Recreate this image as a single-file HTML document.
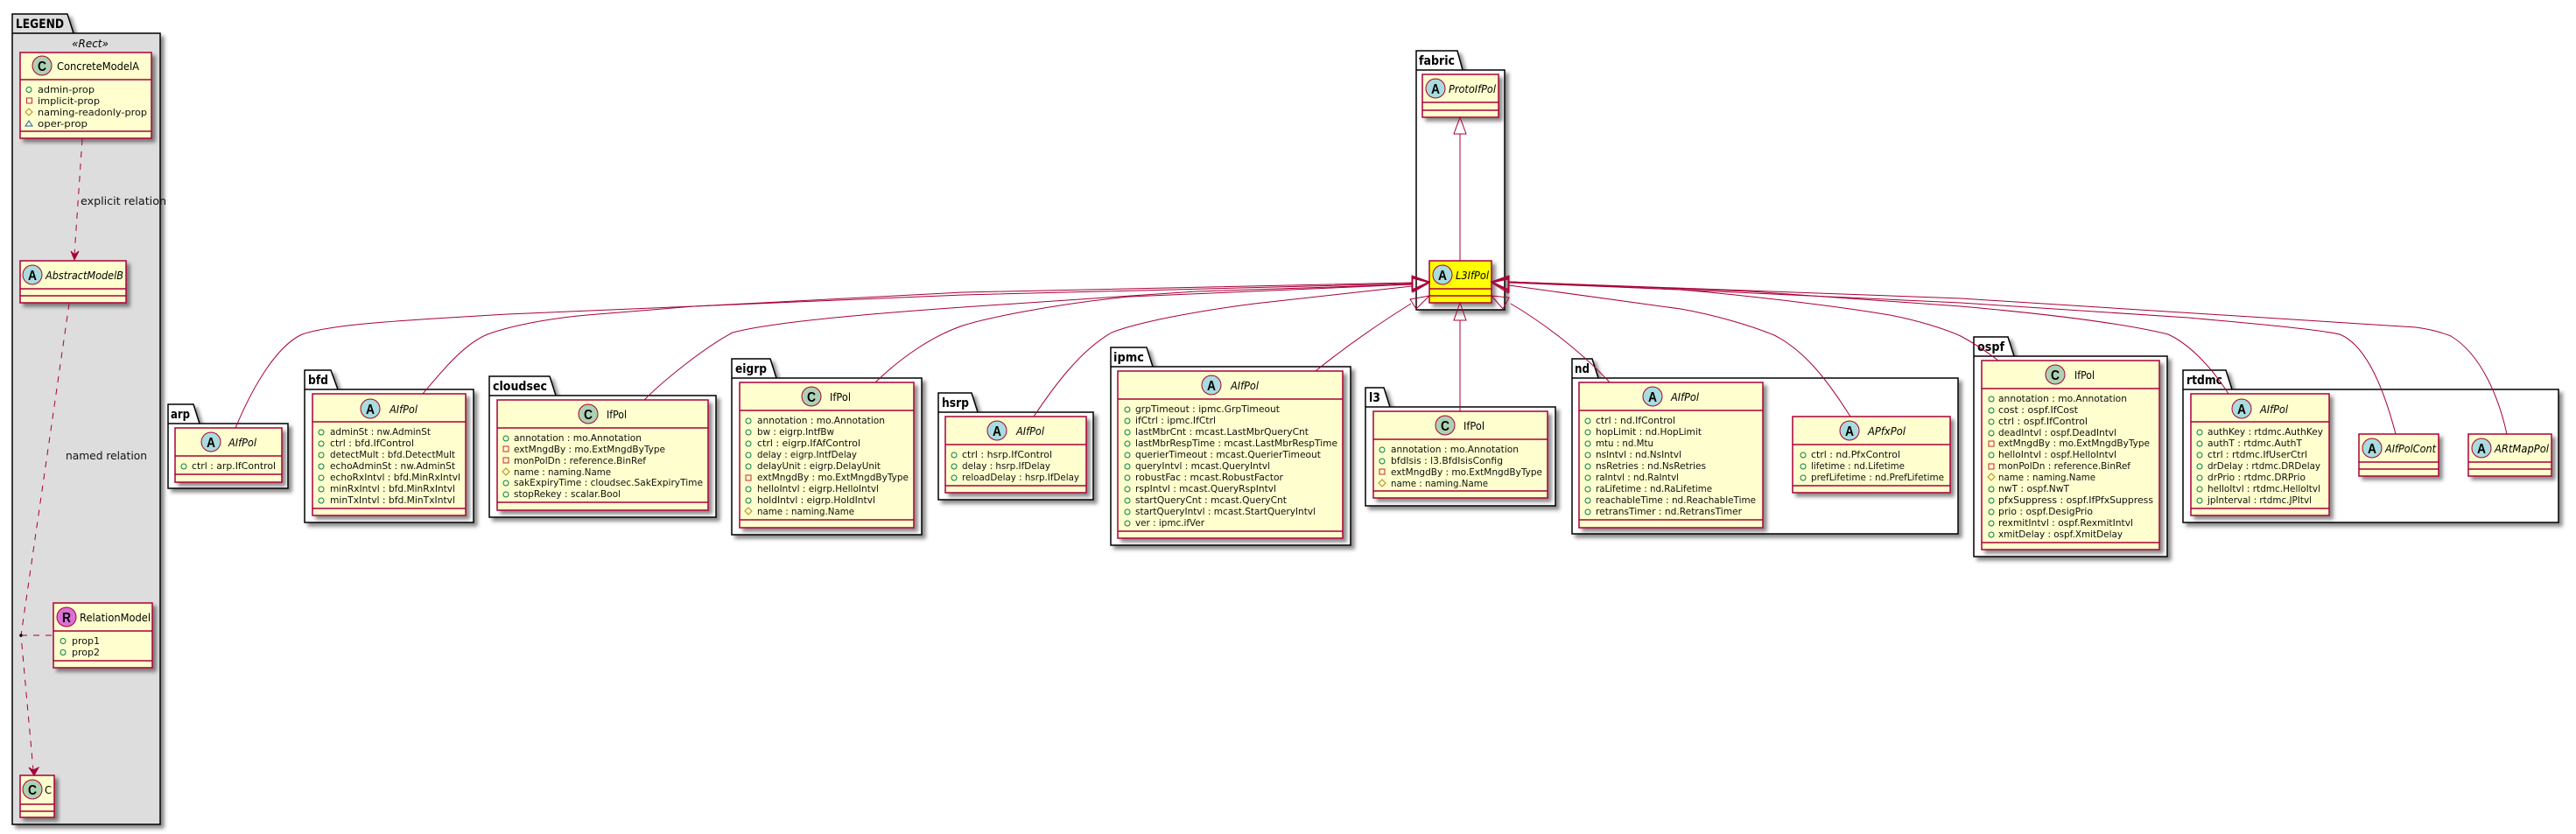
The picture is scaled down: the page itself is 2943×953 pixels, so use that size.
<!DOCTYPE html>
<html lang="en">
<head>
<meta charset="utf-8">
<title>L3IfPol class diagram</title>
<style>
html,body{margin:0;padding:0;background:#fff;width:2943px;height:953px;overflow:hidden}
svg{display:block}
text{font-family:"DejaVu Sans","Liberation Sans",sans-serif;fill:#000}
.f{font-size:11px;fill:#111}
.n{font-size:12px}
.i{font-size:12px;font-style:italic}
.p{font-size:14px;font-weight:bold}
.l{font-family:"Liberation Sans",sans-serif;font-size:16px;font-weight:bold;text-anchor:middle}
.pk{fill:#fff;stroke:#000;stroke-width:1.5}
.pl{fill:none;stroke:#000;stroke-width:1.5}
.c{fill:#FEFECE;stroke:#A80036;stroke-width:1.5}
.y{fill:#FFFF00;stroke:#A80036;stroke-width:1.5}
.d{stroke:#A80036;stroke-width:1.5;fill:none}
.cc{fill:#ADD1B2;stroke:#A80036;stroke-width:1}
.ca{fill:#A9DCDF;stroke:#A80036;stroke-width:1}
.cr{fill:#DA70D6;stroke:#A80036;stroke-width:1}
.e{fill:none;stroke:#A80036;stroke-width:1}
.da{fill:none;stroke:#A80036;stroke-width:1;stroke-dasharray:7,7}
.h{fill:#A80036;stroke:#A80036;stroke-width:1}
.pub{fill:none;stroke:#038048;stroke-width:1}
.pri{fill:none;stroke:#C82930;stroke-width:1}
.pro{fill:none;stroke:#B38D22;stroke-width:1}
.pac{fill:none;stroke:#1963A0;stroke-width:1}
.s{filter:url(#sh)}
</style>
</head>
<body>
<svg xmlns="http://www.w3.org/2000/svg" width="2943" height="953" viewBox="0 0 2943 953">
<defs>
<filter id="sh" x="-15%" y="-15%" width="135%" height="135%">
<feDropShadow dx="4" dy="4" stdDeviation="2" flood-color="#000" flood-opacity="0.45"/>
</filter>
</defs>
<rect width="2943" height="953" fill="#fff"/>

<!-- packages -->
<g class="s"><path d="M14,38V16H77L84,38H183V942H14Z" class="pk" style="fill:#DDDDDD"/></g>
<path d="M14,38H84" class="pl"/><text class="p" x="18" y="32" textLength="55" lengthAdjust="spacingAndGlyphs">LEGEND</text>
<text x="103" y="54" font-size="12" font-style="italic" text-anchor="middle">«Rect»</text>

<g class="s"><path d="M192,484V462H221L228,484H329V558H192Z" class="pk"/></g>
<path d="M192,484H228" class="pl"/><text class="p" x="195" y="478" textLength="22" lengthAdjust="spacingAndGlyphs">arp</text>

<g class="s"><path d="M348,445V423H378L386,445H541V597H348Z" class="pk"/></g>
<path d="M348,445H386" class="pl"/><text class="p" x="352" y="439" textLength="23" lengthAdjust="spacingAndGlyphs">bfd</text>

<g class="s"><path d="M559,452V430H628L635,452H818V591H559Z" class="pk"/></g>
<path d="M559,452H635" class="pl"/><text class="p" x="563" y="446" textLength="62" lengthAdjust="spacingAndGlyphs">cloudsec</text>

<g class="s"><path d="M836,432V410H880L887,432H1053V611H836Z" class="pk"/></g>
<path d="M836,432H887" class="pl"/><text class="p" x="840" y="426" textLength="36" lengthAdjust="spacingAndGlyphs">eigrp</text>

<g class="s"><path d="M1072,471V449H1110L1117,471H1249V571H1072Z" class="pk"/></g>
<path d="M1072,471H1117" class="pl"/><text class="p" x="1076" y="465" textLength="31" lengthAdjust="spacingAndGlyphs">hsrp</text>

<g class="s"><path d="M1269,419V397H1310L1317,419H1543V623H1269Z" class="pk"/></g>
<path d="M1269,419H1317" class="pl"/><text class="p" x="1272" y="413" textLength="35" lengthAdjust="spacingAndGlyphs">ipmc</text>

<g class="s"><path d="M1560,465V443H1581L1588,465H1777V578H1560Z" class="pk"/></g>
<path d="M1560,465H1588" class="pl"/><text class="p" x="1564" y="459" textLength="13" lengthAdjust="spacingAndGlyphs">l3</text>

<g class="s"><path d="M1796,432V410H1819L1826,432H2237V610H1796Z" class="pk"/></g>
<path d="M1796,432H1826" class="pl"/><text class="p" x="1799" y="426" textLength="17" lengthAdjust="spacingAndGlyphs">nd</text>

<g class="s"><path d="M2255,407V385H2294L2301,407H2476V636H2255Z" class="pk"/></g>
<path d="M2255,407H2301" class="pl"/><text class="p" x="2259" y="401" textLength="31" lengthAdjust="spacingAndGlyphs">ospf</text>

<g class="s"><path d="M2494,445V423H2543L2550,445H2923V597H2494Z" class="pk"/></g>
<path d="M2494,445H2550" class="pl"/><text class="p" x="2498" y="439" textLength="41" lengthAdjust="spacingAndGlyphs">rtdmc</text>

<g class="s"><path d="M1618,80V58H1665L1671,80H1719V354H1618Z" class="pk"/></g>
<path d="M1618,80H1671" class="pl"/><text class="p" x="1621" y="74" textLength="41" lengthAdjust="spacingAndGlyphs">fabric</text>

<!-- legend classes -->
<rect class="c s" x="23" y="60" width="150" height="98"/>
<path class="d" d="M23,91H173M23,150H173"/>
<circle class="cc" cx="48" cy="75" r="11"/><text class="l" x="48" y="81" textLength="10" lengthAdjust="spacingAndGlyphs">C</text>
<text class="n" x="65" y="80" textLength="94" lengthAdjust="spacingAndGlyphs">ConcreteModelA</text>
<circle class="pub" cx="33" cy="102.5" r="3"/>
<rect class="pri" x="30.500" y="112" width="6" height="6"/>
<path class="pro" d="M33,124L37,128L33,132L29,128Z"/>
<path class="pac" d="M33,138L37,144H29Z"/>
<text class="f" x="43" y="106" textLength="65" lengthAdjust="spacingAndGlyphs">admin-prop</text>
<text class="f" x="43" y="119" textLength="71" lengthAdjust="spacingAndGlyphs">implicit-prop</text>
<text class="f" x="43" y="132" textLength="125" lengthAdjust="spacingAndGlyphs">naming-readonly-prop</text>
<text class="f" x="43" y="145" textLength="57" lengthAdjust="spacingAndGlyphs">oper-prop</text>

<rect class="c s" x="23" y="298" width="121" height="48"/>
<path class="d" d="M23,330H144M23,338H144"/>
<circle class="ca" cx="37" cy="314" r="11"/><text class="l" x="37" y="320" textLength="10" lengthAdjust="spacingAndGlyphs">A</text>
<text class="i" x="52" y="319" textLength="89" lengthAdjust="spacingAndGlyphs">AbstractModelB</text>

<rect class="c s" x="61" y="689" width="113" height="74"/>
<path class="d" d="M61,721H174M61,755H174"/>
<circle class="cr" cx="76" cy="705" r="11"/><text class="l" x="76" y="711" textLength="10" lengthAdjust="spacingAndGlyphs">R</text>
<text class="n" x="91" y="710" textLength="81" lengthAdjust="spacingAndGlyphs">RelationModel</text>
<circle class="pub" cx="72" cy="732.500" r="3"/><circle class="pub" cx="72" cy="745.500" r="3"/>
<text class="f" x="82" y="736" textLength="32" lengthAdjust="spacingAndGlyphs">prop1</text>
<text class="f" x="82" y="749" textLength="32" lengthAdjust="spacingAndGlyphs">prop2</text>

<rect class="c s" x="23" y="886" width="39" height="48"/>
<path class="d" d="M23,919H62M23,927H62"/>
<circle class="cc" cx="37" cy="902" r="11"/><text class="l" x="37" y="908" textLength="10" lengthAdjust="spacingAndGlyphs">C</text>
<text class="n" x="51" y="907" textLength="8" lengthAdjust="spacingAndGlyphs">C</text>

<!-- legend relations -->
<path class="da" d="M94,159L85,291"/>
<path class="h" d="M85,297L81,287L85,291L90,287Z"/>
<text class="f" x="92" y="234" font-size="12" textLength="98" lengthAdjust="spacingAndGlyphs" style="font-size:12px">explicit relation</text>
<path class="da" d="M79,347L24,726L38,880"/>
<path class="h" d="M39,886L33,877L38,880L44,877Z"/>
<text class="f" x="75" y="525" textLength="93" lengthAdjust="spacingAndGlyphs" style="font-size:12px">named relation</text>
<circle cx="24" cy="726" r="1.8" fill="#000"/>
<path class="da" d="M24,726H61"/>

<!-- arp -->
<rect class="c s" x="200" y="489" width="122" height="62"/>
<path class="d" d="M200,521H322M200,542H322"/>
<circle class="ca" cx="241" cy="505" r="11"/><text class="l" x="241" y="511" textLength="10" lengthAdjust="spacingAndGlyphs">A</text>
<text class="i" x="261" y="510" textLength="32" lengthAdjust="spacingAndGlyphs">AIfPol</text>
<circle class="pub" cx="210" cy="533" r="3"/>
<text class="f" x="219" y="536" textLength="96" lengthAdjust="spacingAndGlyphs">ctrl : arp.IfControl</text>

<!-- bfd -->
<rect class="c s" x="357" y="450" width="175" height="139"/>
<path class="d" d="M357,482H532M357,581H532"/>
<circle class="ca" cx="423" cy="467" r="11"/><text class="l" x="423" y="473" textLength="10" lengthAdjust="spacingAndGlyphs">A</text>
<text class="i" x="445" y="472" textLength="32" lengthAdjust="spacingAndGlyphs">AIfPol</text>
<g class="pub"><circle cx="367" cy="494" r="3"/><circle cx="367" cy="507" r="3"/><circle cx="367" cy="520" r="3"/><circle cx="367" cy="533" r="3"/><circle cx="367" cy="546" r="3"/><circle cx="367" cy="559" r="3"/><circle cx="367" cy="572" r="3"/></g>
<text class="f" x="377" y="497" textLength="115" lengthAdjust="spacingAndGlyphs">adminSt : nw.AdminSt</text>
<text class="f" x="377" y="510" textLength="96" lengthAdjust="spacingAndGlyphs">ctrl : bfd.IfControl</text>
<text class="f" x="377" y="523" textLength="143" lengthAdjust="spacingAndGlyphs">detectMult : bfd.DetectMult</text>
<text class="f" x="377" y="536" textLength="143" lengthAdjust="spacingAndGlyphs">echoAdminSt : nw.AdminSt</text>
<text class="f" x="377" y="549" textLength="149" lengthAdjust="spacingAndGlyphs">echoRxIntvl : bfd.MinRxIntvl</text>
<text class="f" x="377" y="562" textLength="143" lengthAdjust="spacingAndGlyphs">minRxIntvl : bfd.MinRxIntvl</text>
<text class="f" x="377" y="575" textLength="143" lengthAdjust="spacingAndGlyphs">minTxIntvl : bfd.MinTxIntvl</text>

<!-- cloudsec -->
<rect class="c s" x="568" y="457" width="241" height="126"/>
<path class="d" d="M568,489H809M568,574H809"/>
<circle class="cc" cx="672" cy="473" r="11"/><text class="l" x="672" y="479" textLength="10" lengthAdjust="spacingAndGlyphs">C</text>
<text class="n" x="693" y="478" textLength="23" lengthAdjust="spacingAndGlyphs">IfPol</text>
<circle class="pub" cx="578" cy="501" r="3"/>
<rect class="pri" x="575" y="510" width="6" height="6"/>
<rect class="pri" x="575" y="523" width="6" height="6"/>
<path class="pro" d="M578,535L582,539L578,543L574,539Z"/>
<circle class="pub" cx="578" cy="552" r="3"/><circle class="pub" cx="578" cy="565" r="3"/>
<text class="f" x="587" y="504" textLength="146" lengthAdjust="spacingAndGlyphs">annotation : mo.Annotation</text>
<text class="f" x="587" y="517" textLength="173" lengthAdjust="spacingAndGlyphs">extMngdBy : mo.ExtMngdByType</text>
<text class="f" x="587" y="530" textLength="151" lengthAdjust="spacingAndGlyphs">monPolDn : reference.BinRef</text>
<text class="f" x="587" y="543" textLength="111" lengthAdjust="spacingAndGlyphs">name : naming.Name</text>
<text class="f" x="587" y="555" textLength="216" lengthAdjust="spacingAndGlyphs">sakExpiryTime : cloudsec.SakExpiryTime</text>
<text class="f" x="587" y="568" textLength="122" lengthAdjust="spacingAndGlyphs">stopRekey : scalar.Bool</text>

<!-- eigrp -->
<rect class="c s" x="845" y="437" width="199" height="166"/>
<path class="d" d="M845,469H1044M845,594H1044"/>
<circle class="cc" cx="927" cy="453" r="11"/><text class="l" x="927" y="459" textLength="10" lengthAdjust="spacingAndGlyphs">C</text>
<text class="n" x="948" y="458" textLength="24" lengthAdjust="spacingAndGlyphs">IfPol</text>
<g class="pub"><circle cx="855" cy="481" r="3"/><circle cx="855" cy="494" r="3"/><circle cx="855" cy="507" r="3"/><circle cx="855" cy="520" r="3"/><circle cx="855" cy="533" r="3"/><circle cx="855" cy="559" r="3"/><circle cx="855" cy="572" r="3"/></g>
<rect class="pri" x="852" y="543" width="6" height="6"/>
<path class="pro" d="M855,580L859,584L855,588L851,584Z"/>
<text class="f" x="865" y="484" textLength="146" lengthAdjust="spacingAndGlyphs">annotation : mo.Annotation</text>
<text class="f" x="865" y="497" textLength="88" lengthAdjust="spacingAndGlyphs">bw : eigrp.IntfBw</text>
<text class="f" x="865" y="510" textLength="118" lengthAdjust="spacingAndGlyphs">ctrl : eigrp.IfAfControl</text>
<text class="f" x="865" y="523" textLength="114" lengthAdjust="spacingAndGlyphs">delay : eigrp.IntfDelay</text>
<text class="f" x="865" y="536" textLength="141" lengthAdjust="spacingAndGlyphs">delayUnit : eigrp.DelayUnit</text>
<text class="f" x="865" y="549" textLength="173" lengthAdjust="spacingAndGlyphs">extMngdBy : mo.ExtMngdByType</text>
<text class="f" x="865" y="562" textLength="139" lengthAdjust="spacingAndGlyphs">helloIntvl : eigrp.HelloIntvl</text>
<text class="f" x="865" y="575" textLength="135" lengthAdjust="spacingAndGlyphs">holdIntvl : eigrp.HoldIntvl</text>
<text class="f" x="865" y="588" textLength="111" lengthAdjust="spacingAndGlyphs">name : naming.Name</text>

<!-- hsrp -->
<rect class="c s" x="1080" y="476" width="161" height="87"/>
<path class="d" d="M1080,508H1241M1080,555H1241"/>
<circle class="ca" cx="1139" cy="492" r="11"/><text class="l" x="1139" y="498" textLength="10" lengthAdjust="spacingAndGlyphs">A</text>
<text class="i" x="1161" y="497" textLength="32" lengthAdjust="spacingAndGlyphs">AIfPol</text>
<g class="pub"><circle cx="1090" cy="520" r="3"/><circle cx="1090" cy="533" r="3"/><circle cx="1090" cy="546" r="3"/></g>
<text class="f" x="1099" y="523" textLength="103" lengthAdjust="spacingAndGlyphs">ctrl : hsrp.IfControl</text>
<text class="f" x="1099" y="536" textLength="101" lengthAdjust="spacingAndGlyphs">delay : hsrp.IfDelay</text>
<text class="f" x="1099" y="549" textLength="134" lengthAdjust="spacingAndGlyphs">reloadDelay : hsrp.IfDelay</text>

<!-- ipmc -->
<rect class="c s" x="1277" y="424" width="257" height="191"/>
<path class="d" d="M1277,456H1534M1277,607H1534"/>
<circle class="ca" cx="1384" cy="440" r="11"/><text class="l" x="1384" y="446" textLength="10" lengthAdjust="spacingAndGlyphs">A</text>
<text class="i" x="1406" y="445" textLength="32" lengthAdjust="spacingAndGlyphs">AIfPol</text>
<g class="pub"><circle cx="1288" cy="468" r="3"/><circle cx="1288" cy="481" r="3"/><circle cx="1288" cy="494" r="3"/><circle cx="1288" cy="507" r="3"/><circle cx="1288" cy="520" r="3"/><circle cx="1288" cy="533" r="3"/><circle cx="1288" cy="546" r="3"/><circle cx="1288" cy="559" r="3"/><circle cx="1288" cy="572" r="3"/><circle cx="1288" cy="585" r="3"/><circle cx="1288" cy="598" r="3"/></g>
<text class="f" x="1297" y="471" textLength="165" lengthAdjust="spacingAndGlyphs">grpTimeout : ipmc.GrpTimeout</text>
<text class="f" x="1297" y="484" textLength="92" lengthAdjust="spacingAndGlyphs">ifCtrl : ipmc.IfCtrl</text>
<text class="f" x="1297" y="497" textLength="198" lengthAdjust="spacingAndGlyphs">lastMbrCnt : mcast.LastMbrQueryCnt</text>
<text class="f" x="1297" y="510" textLength="231" lengthAdjust="spacingAndGlyphs">lastMbrRespTime : mcast.LastMbrRespTime</text>
<text class="f" x="1297" y="523" textLength="212" lengthAdjust="spacingAndGlyphs">querierTimeout : mcast.QuerierTimeout</text>
<text class="f" x="1297" y="536" textLength="154" lengthAdjust="spacingAndGlyphs">queryIntvl : mcast.QueryIntvl</text>
<text class="f" x="1297" y="549" textLength="169" lengthAdjust="spacingAndGlyphs">robustFac : mcast.RobustFactor</text>
<text class="f" x="1297" y="562" textLength="161" lengthAdjust="spacingAndGlyphs">rspIntvl : mcast.QueryRspIntvl</text>
<text class="f" x="1297" y="575" textLength="173" lengthAdjust="spacingAndGlyphs">startQueryCnt : mcast.QueryCnt</text>
<text class="f" x="1297" y="588" textLength="206" lengthAdjust="spacingAndGlyphs">startQueryIntvl : mcast.StartQueryIntvl</text>
<text class="f" x="1297" y="601" textLength="79" lengthAdjust="spacingAndGlyphs">ver : ipmc.ifVer</text>

<!-- l3 -->
<rect class="c s" x="1569" y="470" width="199" height="99"/>
<path class="d" d="M1569,502H1768M1569,561H1768"/>
<circle class="cc" cx="1651" cy="486" r="11"/><text class="l" x="1651" y="492" textLength="10" lengthAdjust="spacingAndGlyphs">C</text>
<text class="n" x="1672" y="491" textLength="24" lengthAdjust="spacingAndGlyphs">IfPol</text>
<circle class="pub" cx="1579" cy="514" r="3"/><circle class="pub" cx="1579" cy="527" r="3"/>
<rect class="pri" x="1576" y="536" width="6" height="6"/>
<path class="pro" d="M1579,548L1583,552L1579,556L1575,552Z"/>
<text class="f" x="1589" y="517" textLength="146" lengthAdjust="spacingAndGlyphs">annotation : mo.Annotation</text>
<text class="f" x="1589" y="530" textLength="128" lengthAdjust="spacingAndGlyphs">bfdIsis : l3.BfdIsisConfig</text>
<text class="f" x="1589" y="543" textLength="173" lengthAdjust="spacingAndGlyphs">extMngdBy : mo.ExtMngdByType</text>
<text class="f" x="1589" y="556" textLength="111" lengthAdjust="spacingAndGlyphs">name : naming.Name</text>

<!-- nd -->
<rect class="c s" x="1804" y="437" width="210" height="166"/>
<path class="d" d="M1804,469H2014M1804,594H2014"/>
<circle class="ca" cx="1888" cy="453" r="11"/><text class="l" x="1888" y="459" textLength="10" lengthAdjust="spacingAndGlyphs">A</text>
<text class="i" x="1909" y="458" textLength="32" lengthAdjust="spacingAndGlyphs">AIfPol</text>
<g class="pub"><circle cx="1814" cy="481" r="3"/><circle cx="1814" cy="494" r="3"/><circle cx="1814" cy="507" r="3"/><circle cx="1814" cy="520" r="3"/><circle cx="1814" cy="533" r="3"/><circle cx="1814" cy="546" r="3"/><circle cx="1814" cy="559" r="3"/><circle cx="1814" cy="572" r="3"/><circle cx="1814" cy="585" r="3"/></g>
<text class="f" x="1823" y="484" textLength="91" lengthAdjust="spacingAndGlyphs">ctrl : nd.IfControl</text>
<text class="f" x="1823" y="497" textLength="121" lengthAdjust="spacingAndGlyphs">hopLimit : nd.HopLimit</text>
<text class="f" x="1823" y="510" textLength="66" lengthAdjust="spacingAndGlyphs">mtu : nd.Mtu</text>
<text class="f" x="1823" y="523" textLength="98" lengthAdjust="spacingAndGlyphs">nsIntvl : nd.NsIntvl</text>
<text class="f" x="1823" y="536" textLength="126" lengthAdjust="spacingAndGlyphs">nsRetries : nd.NsRetries</text>
<text class="f" x="1823" y="549" textLength="95" lengthAdjust="spacingAndGlyphs">raIntvl : nd.RaIntvl</text>
<text class="f" x="1823" y="562" textLength="133" lengthAdjust="spacingAndGlyphs">raLifetime : nd.RaLifetime</text>
<text class="f" x="1823" y="575" textLength="183" lengthAdjust="spacingAndGlyphs">reachableTime : nd.ReachableTime</text>
<text class="f" x="1823" y="588" textLength="167" lengthAdjust="spacingAndGlyphs">retransTimer : nd.RetransTimer</text>

<rect class="c s" x="2048" y="476" width="180" height="87"/>
<path class="d" d="M2048,508H2228M2048,555H2228"/>
<circle class="ca" cx="2113" cy="492" r="11"/><text class="l" x="2113" y="498" textLength="10" lengthAdjust="spacingAndGlyphs">A</text>
<text class="i" x="2134" y="497" textLength="43" lengthAdjust="spacingAndGlyphs">APfxPol</text>
<g class="pub"><circle cx="2060" cy="520" r="3"/><circle cx="2060" cy="533" r="3"/><circle cx="2060" cy="546" r="3"/></g>
<text class="f" x="2069" y="523" textLength="102" lengthAdjust="spacingAndGlyphs">ctrl : nd.PfxControl</text>
<text class="f" x="2069" y="536" textLength="107" lengthAdjust="spacingAndGlyphs">lifetime : nd.Lifetime</text>
<text class="f" x="2069" y="549" textLength="152" lengthAdjust="spacingAndGlyphs">prefLifetime : nd.PrefLifetime</text>

<!-- ospf -->
<rect class="c s" x="2264" y="412" width="203" height="216"/>
<path class="d" d="M2264,444H2467M2264,620H2467"/>
<circle class="cc" cx="2348" cy="428" r="11"/><text class="l" x="2348" y="434" textLength="10" lengthAdjust="spacingAndGlyphs">C</text>
<text class="n" x="2370" y="433" textLength="23" lengthAdjust="spacingAndGlyphs">IfPol</text>
<g class="pub"><circle cx="2275" cy="456" r="3"/><circle cx="2275" cy="469" r="3"/><circle cx="2275" cy="482" r="3"/><circle cx="2275" cy="495" r="3"/><circle cx="2275" cy="520" r="3"/><circle cx="2275" cy="559" r="3"/><circle cx="2275" cy="572" r="3"/><circle cx="2275" cy="585" r="3"/><circle cx="2275" cy="598" r="3"/><circle cx="2275" cy="611" r="3"/></g>
<rect class="pri" x="2272" y="504" width="6" height="6"/>
<rect class="pri" x="2272" y="530" width="6" height="6"/>
<path class="pro" d="M2275,541L2279,545L2275,549L2271,545Z"/>
<text class="f" x="2283" y="459" textLength="147" lengthAdjust="spacingAndGlyphs">annotation : mo.Annotation</text>
<text class="f" x="2283" y="472" textLength="91" lengthAdjust="spacingAndGlyphs">cost : ospf.IfCost</text>
<text class="f" x="2283" y="485" textLength="102" lengthAdjust="spacingAndGlyphs">ctrl : ospf.IfControl</text>
<text class="f" x="2283" y="498" textLength="135" lengthAdjust="spacingAndGlyphs">deadIntvl : ospf.DeadIntvl</text>
<text class="f" x="2283" y="510" textLength="173" lengthAdjust="spacingAndGlyphs">extMngdBy : mo.ExtMngdByType</text>
<text class="f" x="2283" y="523" textLength="135" lengthAdjust="spacingAndGlyphs">helloIntvl : ospf.HelloIntvl</text>
<text class="f" x="2283" y="536" textLength="151" lengthAdjust="spacingAndGlyphs">monPolDn : reference.BinRef</text>
<text class="f" x="2283" y="549" textLength="111" lengthAdjust="spacingAndGlyphs">name : naming.Name</text>
<text class="f" x="2283" y="562" textLength="81" lengthAdjust="spacingAndGlyphs">nwT : ospf.NwT</text>
<text class="f" x="2283" y="575" textLength="177" lengthAdjust="spacingAndGlyphs">pfxSuppress : ospf.IfPfxSuppress</text>
<text class="f" x="2283" y="588" textLength="108" lengthAdjust="spacingAndGlyphs">prio : ospf.DesigPrio</text>
<text class="f" x="2283" y="601" textLength="154" lengthAdjust="spacingAndGlyphs">rexmitIntvl : ospf.RexmitIntvl</text>
<text class="f" x="2283" y="614" textLength="142" lengthAdjust="spacingAndGlyphs">xmitDelay : ospf.XmitDelay</text>

<!-- rtdmc -->
<rect class="c s" x="2503" y="450" width="158" height="139"/>
<path class="d" d="M2503,482H2661M2503,581H2661"/>
<circle class="ca" cx="2561" cy="467" r="11"/><text class="l" x="2561" y="473" textLength="10" lengthAdjust="spacingAndGlyphs">A</text>
<text class="i" x="2582" y="472" textLength="32" lengthAdjust="spacingAndGlyphs">AIfPol</text>
<g class="pub"><circle cx="2513" cy="494" r="3"/><circle cx="2513" cy="507" r="3"/><circle cx="2513" cy="520" r="3"/><circle cx="2513" cy="533" r="3"/><circle cx="2513" cy="546" r="3"/><circle cx="2513" cy="559" r="3"/><circle cx="2513" cy="572" r="3"/></g>
<text class="f" x="2522" y="497" textLength="132" lengthAdjust="spacingAndGlyphs">authKey : rtdmc.AuthKey</text>
<text class="f" x="2522" y="510" textLength="108" lengthAdjust="spacingAndGlyphs">authT : rtdmc.AuthT</text>
<text class="f" x="2522" y="523" textLength="114" lengthAdjust="spacingAndGlyphs">ctrl : rtdmc.IfUserCtrl</text>
<text class="f" x="2522" y="536" textLength="129" lengthAdjust="spacingAndGlyphs">drDelay : rtdmc.DRDelay</text>
<text class="f" x="2522" y="549" textLength="112" lengthAdjust="spacingAndGlyphs">drPrio : rtdmc.DRPrio</text>
<text class="f" x="2522" y="562" textLength="129" lengthAdjust="spacingAndGlyphs">helloItvl : rtdmc.HelloItvl</text>
<text class="f" x="2522" y="575" textLength="119" lengthAdjust="spacingAndGlyphs">jpInterval : rtdmc.JPItvl</text>

<rect class="c s" x="2695" y="496" width="91" height="48"/>
<path class="d" d="M2695,528H2786M2695,536H2786"/>
<circle class="ca" cx="2710" cy="512" r="11"/><text class="l" x="2710" y="518" textLength="10" lengthAdjust="spacingAndGlyphs">A</text>
<text class="i" x="2725" y="517" textLength="58" lengthAdjust="spacingAndGlyphs">AIfPolCont</text>

<rect class="c s" x="2820" y="496" width="95" height="48"/>
<path class="d" d="M2820,528H2915M2820,536H2915"/>
<circle class="ca" cx="2835" cy="512" r="11"/><text class="l" x="2835" y="518" textLength="10" lengthAdjust="spacingAndGlyphs">A</text>
<text class="i" x="2850" y="517" textLength="62" lengthAdjust="spacingAndGlyphs">ARtMapPol</text>

<!-- fabric classes -->
<rect class="c s" x="1625" y="85" width="87" height="49"/>
<path class="d" d="M1625,117H1712M1625,126H1712"/>
<circle class="ca" cx="1640" cy="101" r="11"/><text class="l" x="1640" y="107" textLength="10" lengthAdjust="spacingAndGlyphs">A</text>
<text class="i" x="1655" y="106" textLength="54" lengthAdjust="spacingAndGlyphs">ProtoIfPol</text>

<rect class="y s" x="1633" y="298" width="71" height="48"/>
<path class="d" d="M1633,330H1704M1633,338H1704"/>
<circle class="ca" cx="1648" cy="314" r="11"/><text class="l" x="1648" y="320" textLength="10" lengthAdjust="spacingAndGlyphs">A</text>
<text class="i" x="1663" y="319" textLength="38" lengthAdjust="spacingAndGlyphs">L3IfPol</text>

<!-- generalisation edges -->
<g class="e">
<path d="M1668,298V153"/>
<path d="M1668,134L1675,153H1661Z"/>
<path d="M1668,470V366"/>
<path d="M1668,346L1675,366H1661Z"/>

<path d="M269,489C292,434 318,396 343,383C372,370 480,365 580,359L793,350L1100,337L1613,324"/>
<path d="M483,450C505,424 530,393 557,382C590,370 640,362 683,359L793,350L1100,334L1613,323"/>
<path d="M736,457C760,433 805,397 837,380C880,368 1000,358 1100,351L1367,333L1613,325"/>
<path d="M1000,437C1030,408 1065,384 1100,372C1125,364 1200,348 1290,339L1613,325"/>
<path d="M1181,476C1205,440 1235,400 1270,380C1300,368 1370,355 1433,347L1613,327"/>
<path d="M1503,424C1535,398 1575,370 1612,347"/>

<path d="M1726,347C1760,367 1805,400 1839,437"/>
<path d="M1724,326L1920,353C1960,360 2000,372 2027,383C2060,400 2085,430 2114,476"/>
<path d="M1724,323L1920,331C2000,338 2100,350 2159,360C2190,366 2220,375 2240,384C2255,392 2270,402 2283,412"/>
<path d="M1724,322L2000,333L2240,350C2330,358 2420,368 2477,382C2505,395 2530,425 2546,450"/>
<path d="M1724,322L2240,346L2500,363C2600,372 2650,377 2673,382C2705,395 2725,450 2737,496"/>
<path d="M1724,322L2240,341L2760,374C2775,376 2790,380 2800,384C2835,405 2855,455 2864,496"/>

<path d="M1633,322L1613,315V331Z"/>
<path d="M1633,322L1613,316V332Z"/>
<path d="M1633,322L1614,317V333Z"/>
<path d="M1633,323L1613,317V333Z"/>
<path d="M1633,323L1614,318V334Z"/>
<path d="M1633,338L1611,342L1618,353Z"/>

<path d="M1704,322L1724,315V331Z"/>
<path d="M1704,322L1724,316V332Z"/>
<path d="M1704,322L1723,317V333Z"/>
<path d="M1704,322L1724,318V334Z"/>
<path d="M1704,323L1723,319V335Z"/>
<path d="M1704,338L1724,340L1717,353Z"/>
</g>
</svg>
</body>
</html>
